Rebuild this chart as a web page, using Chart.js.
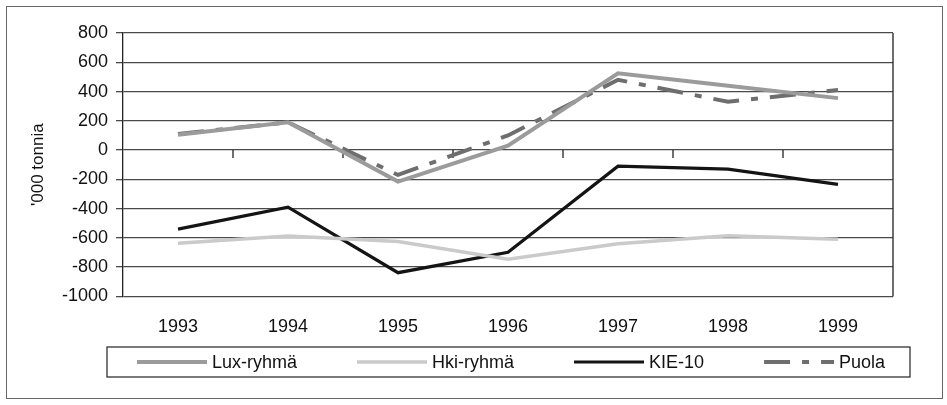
<!DOCTYPE html>
<html>
<head>
<meta charset="utf-8">
<script src="https://cdn.jsdelivr.net/npm/chart.js@4.4.0/dist/chart.umd.min.js"></script>
<style>
  html, body { margin: 0; padding: 0; background: #fff; }
  #wrap { position: relative; width: 947px; height: 405px; }
  #frame { position: absolute; left: 6px; top: 6px; width: 935px; height: 391px; border: 1.5px solid #666; pointer-events: none; }
</style>
</head>
<body>
<div id="wrap">
  <canvas id="chart" width="947" height="405"></canvas>
  <div id="frame"></div>
</div>
<script>
const years = ['1993', '1994', '1995', '1996', '1997', '1998', '1999'];
const luxRyhma = [105, 190, -215, 30, 525, 440, 355];
const hkiRyhma = [-636, -588, -625, -746, -640, -585, -610];
const kie10 = [-540, -390, -838, -698, -110, -130, -235];
const puola = [110, 190, -170, 100, 480, 330, 410];

const FONT = '"Liberation Sans", Arial, sans-serif';

// zero line with category ticks, right border of the plot area
const axisExtras = {
  id: 'axisExtras',
  beforeDatasetsDraw(chart) {
    const {ctx, chartArea, scales} = chart;
    const y0 = scales.y.getPixelForValue(0);
    ctx.save();
    ctx.strokeStyle = '#222';
    ctx.lineWidth = 1.3;
    ctx.beginPath();
    ctx.moveTo(chartArea.right, chartArea.top);
    ctx.lineTo(chartArea.right, chartArea.bottom);
    for (let i = 1; i < years.length; i++) {
      const xm = (scales.x.getPixelForValue(i - 1) + scales.x.getPixelForValue(i)) / 2;
      ctx.moveTo(xm, y0);
      ctx.lineTo(xm, y0 + 8);
    }
    ctx.stroke();
    ctx.restore();
  }
};

// legend inside a box, like the spreadsheet original
const boxedLegend = {
  id: 'boxedLegend',
  afterDraw(chart, args, opts) {
    const ctx = chart.ctx;
    ctx.save();
    ctx.strokeStyle = '#333';
    ctx.lineWidth = 1.3;
    ctx.strokeRect(opts.left, opts.centerY - 15, opts.right - opts.left, 30);
    ctx.font = '18px ' + FONT;
    ctx.textBaseline = 'middle';
    let x = opts.start;
    chart.data.datasets.forEach(ds => {
      ctx.strokeStyle = ds.borderColor;
      ctx.lineWidth = ds.borderWidth;
      ctx.setLineDash(ds.borderDash || []);
      ctx.beginPath();
      ctx.moveTo(x, opts.centerY);
      ctx.lineTo(x + opts.sample, opts.centerY);
      ctx.stroke();
      ctx.setLineDash([]);
      ctx.fillStyle = '#111';
      ctx.fillText(ds.label, x + opts.sample + 5, opts.centerY + 1);
      x += opts.sample + 5 + ctx.measureText(ds.label).width + opts.spacing;
    });
    ctx.restore();
  }
};

const config = {
  type: 'line',
  data: {
    labels: years,
    datasets: [
      { label: 'Lux-ryhmä', data: luxRyhma, borderColor: '#9b9b9b', borderWidth: 4 },
      { label: 'Hki-ryhmä', data: hkiRyhma, borderColor: '#cacaca', borderWidth: 3.5 },
      { label: 'KIE-10', data: kie10, borderColor: '#141414', borderWidth: 3.2 },
      { label: 'Puola', data: puola, borderColor: '#6e6e6e', borderWidth: 4, borderDash: [26, 12, 7, 12] }
    ]
  },
  options: {
    responsive: false,
    animation: false,
    layout: { padding: { left: 28, right: 54, top: 33, bottom: 47 } },
    elements: {
      line: { tension: 0, fill: false },
      point: { radius: 0 }
    },
    scales: {
      x: {
        offset: true,
        grid: { display: false, drawTicks: false },
        border: { display: false },
        ticks: { color: '#111', padding: 20, font: { family: FONT, size: 18 } }
      },
      y: {
        min: -1000,
        max: 800,
        afterFit(scale) { scale.width = 95; },
        ticks: {
          stepSize: 200,
          color: '#111',
          padding: 8,
          font: { family: FONT, size: 18 },
          callback: v => String(v)
        },
        grid: { color: '#4a4a4a', lineWidth: 1.3, tickLength: 7 },
        border: { display: true, color: '#222', width: 1.3 },
        title: {
          display: true,
          text: "'000 tonnia",
          color: '#111',
          padding: 0,
          font: { family: FONT, size: 17 }
        }
      }
    },
    plugins: {
      legend: { display: false },
      tooltip: { enabled: false },
      boxedLegend: { left: 107, right: 910, centerY: 362, start: 137, sample: 70, spacing: 60 }
    }
  },
  plugins: [axisExtras, boxedLegend]
};

new Chart(document.getElementById('chart'), config);
</script>
</body>
</html>
